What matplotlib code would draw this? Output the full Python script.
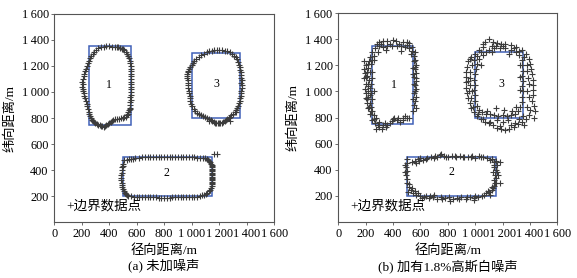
import matplotlib.pyplot as plt
from matplotlib.patches import Rectangle

plt.rcParams['font.family'] = ['Liberation Serif', 'Noto Sans CJK SC']

# ground-truth rectangles (x0, y0, width, height)
rects_a = [(250, 750, 310, 600), (500, 200, 650, 300), (1000, 800, 350, 500)]
rects_b = [(250, 750, 300, 600), (500, 200, 650, 300), (1000, 800, 350, 500)]
labels_a = [('1', 400, 1050), ('2', 820, 380), ('3', 1180, 1060)]
labels_b = [('1', 410, 1050), ('2', 830, 380), ('3', 1190, 1060)]

# boundary points, panel (a) - no noise
obj1_a = [(400, 1350), (440, 1348), (480, 1340), (510, 1320), (530, 1290), (545, 1260), (555, 1220),
          (560, 1180), (562, 1140), (562, 1100), (560, 1060), (558, 1020), (556, 980), (556, 940),
          (553, 900), (545, 860), (535, 830), (520, 810), (500, 800), (470, 795), (440, 790),
          (420, 775), (400, 760), (380, 748), (360, 732), (340, 738), (320, 750), (300, 760),
          (280, 775), (265, 800), (255, 830), (245, 870), (235, 910), (225, 950), (215, 990),
          (205, 1040), (205, 1080), (215, 1120), (225, 1160), (240, 1200), (255, 1240), (270, 1280),
          (290, 1310), (320, 1335), (360, 1348), (420, 1349), (460, 1345), (540, 1275), (557, 1200),
          (561, 1120), (559, 1040), (555, 960), (550, 880), (228, 930), (210, 1010), (220, 1140),
          (248, 1220), (262, 815), (490, 1330), (380, 1350), (340, 1342), (305, 1322), (280, 1295),
          (262, 1260), (232, 1180), (210, 1100), (207, 1060), (208, 1020), (220, 970), (240, 890),
          (250, 850), (272, 788), (290, 768), (310, 755), (330, 744), (350, 735), (370, 740),
          (390, 754), (410, 768), (430, 783), (455, 792), (485, 797), (510, 805), (528, 820),
          (540, 845), (549, 870), (554, 920), (557, 1000), (561, 1080), (561, 1160), (552, 1240),
          (520, 1305), (500, 1330), (465, 1343)]
obj2_a = [(620, 495), (660, 500), (700, 500), (740, 502), (780, 500), (820, 502), (860, 500),
          (900, 500), (940, 502), (980, 500), (1020, 497), (1060, 495), (1100, 490), (1120, 475),
          (1135, 460), (1145, 440), (1148, 400), (1148, 360), (1148, 320), (1145, 280), (1135, 250),
          (1115, 225), (1090, 210), (1060, 200), (1020, 192), (980, 190), (940, 192), (900, 190),
          (860, 190), (820, 188), (780, 186), (740, 190), (700, 190), (660, 192), (620, 192),
          (580, 195), (540, 200), (520, 215), (505, 240), (495, 270), (490, 300), (488, 340),
          (490, 380), (495, 420), (500, 450), (510, 475), (530, 480), (560, 485), (590, 492),
          (1147, 380), (1148, 340), (1146, 300), (1147, 420), (640, 500), (880, 502), (1040, 496),
          (600, 194), (800, 186), (1000, 191), (1160, 520), (1185, 525), (680, 500), (720, 501),
          (760, 501), (800, 501), (840, 501), (920, 501), (960, 501), (1000, 498), (1080, 493),
          (1110, 483), (1128, 468), (1140, 450), (1147, 430), (1148, 410), (1148, 390), (1148, 370),
          (1148, 350), (1147, 330), (1147, 310), (1146, 290), (1140, 265), (1125, 237), (1103, 217),
          (1075, 205), (1040, 196), (960, 191), (920, 191), (880, 190), (840, 189), (760, 188),
          (720, 190), (680, 191), (640, 192), (560, 197), (530, 207), (512, 227), (500, 255),
          (492, 285), (489, 320), (489, 360), (492, 400), (497, 435), (545, 483), (575, 488)]
obj3_a = [(1200, 1322), (1240, 1318), (1280, 1305), (1310, 1280), (1330, 1250), (1345, 1210),
          (1355, 1170), (1360, 1130), (1365, 1090), (1365, 1050), (1362, 1010), (1358, 970),
          (1350, 930), (1340, 895), (1325, 860), (1300, 830), (1280, 810), (1260, 790), (1240, 775),
          (1220, 765), (1200, 760), (1180, 762), (1160, 770), (1140, 785), (1110, 800), (1080, 815),
          (1050, 830), (1025, 855), (1005, 890), (990, 930), (985, 970), (980, 1010), (975, 1050),
          (970, 1090), (965, 1120), (970, 1150), (980, 1180), (1000, 1210), (1020, 1240),
          (1050, 1270), (1090, 1295), (1130, 1312), (1165, 1320), (1362, 1070), (1358, 1150),
          (1345, 915), (972, 1070), (968, 1105), (1130, 775), (1280, 775), (1320, 845), (1095, 808),
          (1220, 1321), (1260, 1312), (1295, 1293), (1320, 1265), (1338, 1230), (1350, 1190),
          (1358, 1110), (1364, 1030), (1360, 990), (1354, 950), (1333, 878), (1312, 845),
          (1290, 820), (1270, 800), (1250, 782), (1230, 770), (1210, 762), (1190, 760), (1170, 765),
          (1150, 777), (1125, 792), (1065, 822), (1037, 842), (1015, 872), (997, 910), (987, 950),
          (982, 990), (977, 1030), (967, 1135), (975, 1165), (990, 1195), (1010, 1225),
          (1035, 1255), (1070, 1283), (1110, 1304), (1148, 1317), (1182, 1322)]

# boundary points, panel (b) - 1.8% gaussian white noise
obj1_b = [(300, 1380), (330, 1390), (360, 1385), (400, 1395), (420, 1385), (470, 1380), (500, 1375),
          (520, 1370), (270, 1330), (300, 1345), (330, 1340), (360, 1345), (390, 1350), (430, 1345),
          (460, 1350), (490, 1340), (520, 1335), (350, 1320), (460, 1310), (290, 1300), (540, 1310),
          (530, 1290), (555, 1270), (560, 1240), (565, 1200), (560, 1170), (570, 1140), (555, 1110),
          (565, 1080), (560, 1050), (570, 1020), (555, 990), (565, 960), (560, 930), (555, 900),
          (565, 870), (545, 850), (560, 1190), (550, 1130), (560, 1000), (520, 800), (500, 795),
          (470, 800), (440, 795), (410, 800), (470, 785), (430, 780), (400, 790), (380, 760),
          (360, 745), (330, 740), (300, 730), (280, 715), (320, 710), (350, 725), (270, 760),
          (250, 780), (300, 770), (260, 820), (280, 800), (250, 850), (240, 880), (230, 910),
          (245, 940), (230, 970), (220, 1000), (235, 1030), (215, 1060), (225, 1090), (210, 1120),
          (230, 1150), (215, 1180), (240, 1210), (250, 1240), (260, 1270), (200, 1200), (190, 1170),
          (195, 1140), (190, 1100), (200, 1060), (195, 1020), (205, 990), (200, 950), (210, 910),
          (215, 870), (230, 830), (190, 1230), (260, 1000), (250, 1100), (245, 1150), (220, 960),
          (240, 1060), (205, 1110), (555, 1230), (570, 1100), (285, 1360), (315, 1365), (375, 1365),
          (445, 1365), (505, 1355), (540, 1340), (548, 1180), (552, 1060), (548, 940), (562, 1300),
          (235, 1260), (225, 1230), (215, 1210), (208, 1150), (218, 1040), (212, 940), (225, 880),
          (238, 850), (265, 790), (290, 745), (340, 760), (395, 775), (455, 770), (490, 810),
          (245, 1300), (265, 1240), (240, 990)]
obj2_b = [(560, 470), (580, 480), (600, 490), (620, 475), (650, 490), (680, 495), (710, 505),
          (740, 510), (770, 505), (800, 500), (830, 505), (860, 500), (890, 505), (920, 495),
          (950, 500), (980, 505), (1000, 490), (1030, 505), (1060, 500), (1090, 490), (1120, 480),
          (1150, 470), (540, 460), (700, 490), (750, 520), (570, 450), (1140, 460), (1160, 440),
          (1140, 420), (1150, 400), (1160, 380), (1145, 360), (1155, 340), (1140, 320), (1150, 300),
          (1140, 280), (1130, 260), (1120, 245), (1100, 230), (1080, 220), (1170, 360), (1130, 380),
          (1180, 300), (1050, 200), (1020, 190), (990, 185), (960, 195), (930, 180), (900, 190),
          (870, 185), (840, 180), (810, 195), (780, 185), (750, 190), (720, 180), (690, 195),
          (660, 185), (630, 190), (600, 200), (570, 210), (550, 225), (530, 245), (820, 160),
          (990, 170), (700, 205), (515, 270), (505, 300), (500, 330), (495, 360), (500, 390),
          (495, 420), (505, 450), (500, 480), (520, 290), (510, 230), (1180, 460), (560, 240),
          (1110, 210), (1125, 480), (640, 200), (590, 465), (640, 485), (720, 500), (790, 495),
          (850, 508), (910, 500), (970, 495), (1040, 495), (1110, 475), (1135, 440), (1145, 300),
          (1125, 270), (1095, 240), (1065, 210), (1000, 200), (940, 190), (880, 178), (760, 178),
          (670, 198), (610, 185), (580, 220), (540, 260), (490, 380), (490, 440)]
obj3_b = [(1100, 1400), (1130, 1380), (1160, 1370), (1190, 1360), (1220, 1365), (1260, 1355),
          (1300, 1340), (1340, 1320), (1370, 1290), (1390, 1250), (1400, 1210), (1410, 1170),
          (1415, 1130), (1420, 1090), (1420, 1050), (1425, 1010), (1420, 970), (1415, 930),
          (1430, 890), (1440, 850), (1400, 860), (1390, 820), (1370, 790), (1340, 770), (1310, 750),
          (1280, 730), (1250, 715), (1220, 705), (1190, 710), (1160, 720), (1130, 740), (1100, 755),
          (1070, 770), (1040, 790), (1010, 810), (990, 840), (970, 870), (960, 910), (950, 950),
          (940, 990), (935, 1030), (930, 1070), (930, 1110), (935, 1150), (940, 1190), (950, 1230),
          (970, 1260), (1000, 1290), (1030, 1320), (1060, 1340), (1070, 1380), (1060, 1365),
          (1430, 800), (1360, 740), (1100, 1320), (1140, 1330), (1180, 1335), (1220, 1330),
          (1260, 1320), (1300, 1305), (1320, 1280), (1340, 1240), (1345, 1200), (1350, 1160),
          (1340, 1120), (1350, 1080), (1345, 1040), (1350, 1000), (1340, 960), (1345, 920),
          (1330, 880), (1310, 850), (1290, 830), (1260, 820), (1230, 815), (1200, 820), (1170, 815),
          (1140, 820), (1110, 825), (1080, 830), (1050, 840), (1030, 860), (1010, 890), (1000, 930),
          (1000, 970), (995, 1010), (1000, 1050), (995, 1090), (1000, 1130), (1005, 1170),
          (1010, 1210), (1030, 1250), (1060, 1280), (1080, 1300), (1040, 1200), (1210, 860),
          (1150, 870), (1300, 880), (960, 1250), (965, 1150), (965, 1050), (970, 950), (1240, 780),
          (1200, 770), (1160, 780), (1380, 1000), (1385, 1100), (1380, 1200), (1120, 1350),
          (1250, 1290), (1290, 760), (1320, 790), (1150, 1350), (1200, 1345), (1280, 1335),
          (1320, 1310), (1360, 1260), (1375, 1160), (1390, 1060), (1395, 960), (1380, 880),
          (1350, 810), (1260, 745), (1180, 735), (1110, 770), (1060, 790), (1020, 830), (985, 880),
          (975, 1000), (960, 1100), (975, 1200), (990, 1240), (1010, 1270), (1040, 1300),
          (950, 1080), (955, 1000), (1330, 1010), (1325, 1110), (1330, 1200), (1120, 1300),
          (1270, 850), (1090, 850)]

ticks = list(range(0, 1601, 200))
tick_labels = ['0', '200', '400', '600', '800', '1\u2009000', '1\u2009200', '1\u2009400', '1\u2009600']
captions = ['(a) 未加噪声', '(b) 加有1.8%高斯白噪声']

fig = plt.figure(figsize=(5.77, 2.78), dpi=100)
ax_a = fig.add_axes([0.094, 0.201, 0.381, 0.749])
ax_b = fig.add_axes([0.586, 0.201, 0.380, 0.752])

panels = [(ax_a, rects_a, labels_a, [obj1_a, obj2_a, obj3_a], captions[0]),
          (ax_b, rects_b, labels_b, [obj1_b, obj2_b, obj3_b], captions[1])]

for ax, rects, labs, objs, cap in panels:
    for obj in objs:
        xs = [p[0] for p in obj]
        ys = [p[1] for p in obj]
        ax.plot(xs, ys, '+', color='#3c3c3c', ms=3.8, mew=0.8)
    for x0, y0, w, h in rects:
        ax.add_patch(Rectangle((x0, y0), w, h, fill=False, ec='#4060b8', lw=1.1))
    for t, x, y in labs:
        ax.text(x, y, t, ha='center', va='center', fontsize=8.5)
    ax.text(90, 120, '+边界数据点', ha='left', va='center', fontsize=9.7)
    ax.set_xlim(0, 1600)
    ax.set_ylim(0, 1600)
    ax.set_xticks(ticks)
    ax.set_xticklabels(tick_labels)
    ax.set_yticks(ticks[1:])
    ax.set_yticklabels(tick_labels[1:])
    ax.tick_params(length=2, width=0.6, color='#555555', labelsize=8.8, pad=2)
    for s in ax.spines.values():
        s.set_color('#555555')
        s.set_linewidth(0.8)
    ax.set_xlabel('径向距离/m', fontsize=9.5, labelpad=3)
    ax.set_ylabel('纬向距离/m', fontsize=9.5, labelpad=4)
    ax.text(0.5, -0.21, cap, transform=ax.transAxes, ha='center', va='center', fontsize=9.5)

fig.savefig('out.png', dpi=100)
